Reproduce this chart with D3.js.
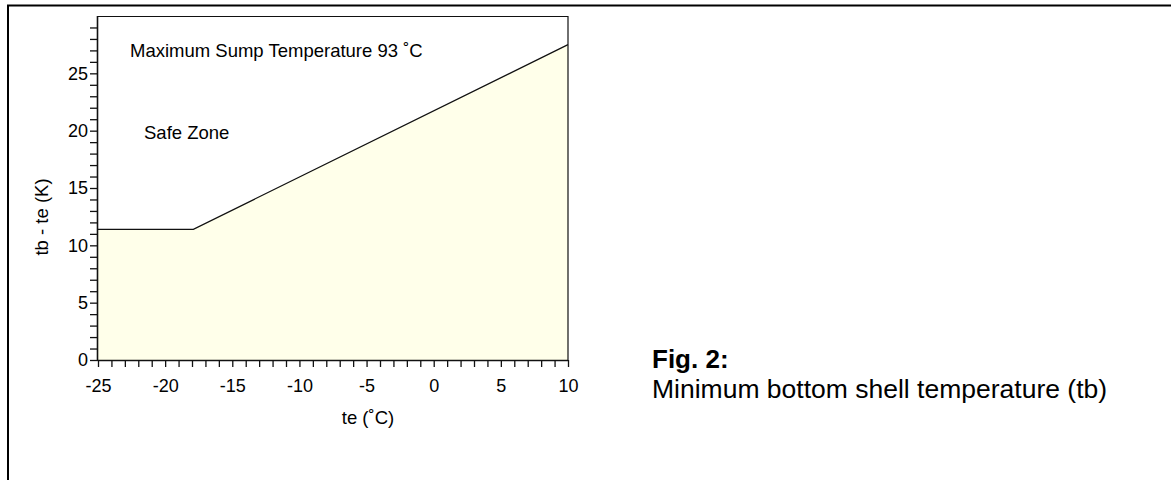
<!DOCTYPE html>
<html><head><meta charset="utf-8">
<script src="https://cdn.jsdelivr.net/npm/d3@7"></script>
<style>
html,body{margin:0;padding:0;background:#fff;}
svg{display:block;font-family:"Liberation Sans",Arial,sans-serif;}
</style></head>
<body>
<svg id="c" width="1171" height="480"></svg>
<script>
// data
const teValues = [-25, -17.9, 10];
const dtValues = [11.4, 11.4, 27.5];
const xTickLabels = [-25, -20, -15, -10, -5, 0, 5, 10];
const yTickLabels = [0, 5, 10, 15, 20, 25];
const xMinorTicks = d3.range(-25, 11, 1);
const yMinorTicks = d3.range(0, 30, 1);
const annotations = ["Maximum Sump Temperature 93 ˚C", "Safe Zone"];
const xTitle = "te (˚C)";
const yTitle = "tb - te (K)";
const figTitle = "Fig. 2:";
const figCaption = "Minimum bottom shell temperature (tb)";

const svg = d3.select("#c");
const L = 98, R = 568, T = 16, B = 360;
const x = d3.scaleLinear().domain([-25, 10]).range([L, R]);
const y = d3.scaleLinear().domain([0, 30]).range([B, T]);

// outer frame (left + top)
svg.append("path").attr("d", `M8,490 L8,5.5 L1180,5.5`).attr("fill", "none")
  .attr("stroke", "#000").attr("stroke-width", 2);

const pts = teValues.map((t, i) => [t, dtValues[i]]);
// fill
const area = d3.area().x(d => x(d[0])).y0(y(0)).y1(d => y(d[1]));
svg.append("path").datum(pts).attr("d", area).attr("fill", "#FFFFEA");
// line
const line = d3.line().x(d => x(d[0])).y(d => y(d[1]));
svg.append("path").datum(pts).attr("d", line).attr("fill", "none")
  .attr("stroke", "#111").attr("stroke-width", 1.3);

// plot box top and right
svg.append("path").attr("d", `M${L},${T+0.5} L${R},${T+0.5} L${R},${B}`)
  .attr("fill", "none").attr("stroke", "#111").attr("stroke-width", 1.2);

// x axis
const xAxis = d3.axisBottom(x).tickValues(xMinorTicks).tickSize(7).tickPadding(12)
  .tickFormat(d => xTickLabels.includes(d) ? String(d) : "");
const gx = svg.append("g").attr("transform", `translate(0,${B})`).call(xAxis);
gx.select(".domain").attr("d", `M${L},0.5 L${R},0.5`).attr("stroke", "#111").attr("stroke-width", 1.5);
gx.selectAll(".tick line").attr("stroke", "#111").attr("stroke-width", 1.3);
gx.selectAll(".tick text").attr("font-size", 18).attr("fill", "#000")
  .attr("font-family", "Liberation Sans, Arial, sans-serif").attr("dy", "0.71em");

// y axis
const yAxis = d3.axisLeft(y).tickValues(yMinorTicks).tickSize(8).tickPadding(2)
  .tickFormat(d => yTickLabels.includes(d) ? String(d) : "");
const gy = svg.append("g").attr("transform", `translate(${L},0)`).call(yAxis);
gy.select(".domain").attr("d", `M-0.5,${B} L-0.5,${T}`).attr("stroke", "#111").attr("stroke-width", 1.6);
gy.selectAll(".tick line").attr("stroke", "#111").attr("stroke-width", 1.3);
gy.selectAll(".tick text").attr("font-size", 18).attr("fill", "#000")
  .attr("font-family", "Liberation Sans, Arial, sans-serif");

// annotations
svg.append("text").attr("x", 130).attr("y", 57).attr("font-size", 18.5).text(annotations[0]);
svg.append("text").attr("x", 144).attr("y", 139).attr("font-size", 18.5).text(annotations[1]);

// axis titles
svg.append("text").attr("x", 368).attr("y", 424).attr("text-anchor", "middle")
  .attr("font-size", 18.5).text(xTitle);
svg.append("text").attr("transform", "translate(48,217) rotate(-90)").attr("text-anchor", "middle")
  .attr("font-size", 18.5).text(yTitle);

// figure caption
svg.append("text").attr("x", 652).attr("y", 368).attr("font-size", 26).attr("font-weight", "bold").text(figTitle);
svg.append("text").attr("x", 652).attr("y", 398).attr("font-size", 26.5).text(figCaption);
</script>
</body></html>
